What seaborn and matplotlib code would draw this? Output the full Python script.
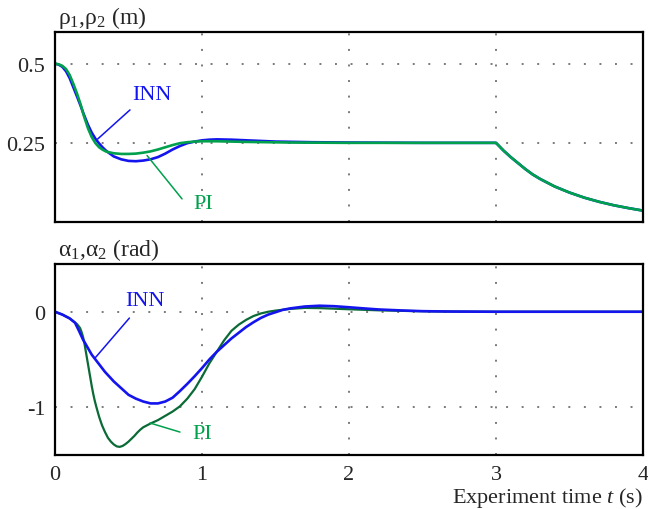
import numpy as np
import pandas as pd
import matplotlib
matplotlib.use("Agg")
import matplotlib.pyplot as plt
import seaborn as sns

# ---- data ----
# top panel: rho (m)
t_rho_inn = [0, 0.025, 0.05, 0.075, 0.1, 0.125, 0.15, 0.175, 0.19, 0.2, 0.225, 0.25, 0.275,
             0.3, 0.325, 0.35, 0.4, 0.45, 0.5, 0.55, 0.6, 0.65, 0.7, 0.75, 0.8, 0.85, 0.9,
             0.95, 1.0, 1.05, 1.1, 1.2, 1.35, 1.5, 1.75, 2.0, 2.5, 3.0,
             3.05, 3.1, 3.15, 3.2, 3.25, 3.3, 3.35, 3.4, 3.5, 3.6, 3.7, 3.8, 3.9, 4.0]
rho_inn = [0.5, 0.497, 0.49, 0.476, 0.454, 0.425, 0.396, 0.366, 0.347, 0.335, 0.306, 0.282,
           0.263, 0.248, 0.235, 0.224, 0.207, 0.198, 0.193, 0.192, 0.194, 0.198, 0.205, 0.216,
           0.229, 0.24, 0.249, 0.254, 0.258, 0.26, 0.261, 0.26, 0.257, 0.254, 0.252, 0.251,
           0.25, 0.25,
           0.226, 0.205, 0.186, 0.167, 0.15, 0.136, 0.124, 0.112, 0.093, 0.077, 0.064, 0.053,
           0.044, 0.036]
t_rho_pi = [0, 0.025, 0.05, 0.075, 0.1, 0.125, 0.15, 0.175, 0.19, 0.2, 0.225, 0.25, 0.275,
            0.3, 0.325, 0.35, 0.4, 0.45, 0.5, 0.55, 0.6, 0.65, 0.7, 0.75, 0.8, 0.85, 0.9,
            0.95, 1.0, 1.1, 1.3, 1.6, 2.0, 3.0,
            3.05, 3.1, 3.15, 3.2, 3.25, 3.3, 3.35, 3.4, 3.5, 3.6, 3.7, 3.8, 3.9, 4.0]
rho_pi = [0.5, 0.498, 0.493, 0.483, 0.464, 0.436, 0.405, 0.37, 0.345, 0.33, 0.295, 0.268,
          0.249, 0.236, 0.228, 0.222, 0.217, 0.215, 0.215, 0.216, 0.219, 0.223, 0.229, 0.236,
          0.243, 0.249, 0.252, 0.254, 0.255, 0.255, 0.253, 0.251, 0.25, 0.25,
          0.226, 0.205, 0.186, 0.167, 0.15, 0.136, 0.124, 0.112, 0.093, 0.077, 0.064, 0.053,
          0.044, 0.036]

# bottom panel: alpha (rad)
t_alpha_inn = [0, 0.05, 0.1, 0.136, 0.16, 0.19, 0.22, 0.25, 0.28, 0.31, 0.34, 0.37, 0.4,
               0.45, 0.5, 0.55, 0.6, 0.65, 0.7, 0.75, 0.8, 0.85, 0.9, 0.95, 1.0, 1.05, 1.1,
               1.15, 1.2, 1.25, 1.3, 1.35, 1.4, 1.45, 1.5, 1.55, 1.6, 1.7, 1.8, 1.9, 2.0,
               2.1, 2.2, 2.35, 2.5, 2.7, 3.0, 4.0]
alpha_inn = [0, -0.03, -0.07, -0.115, -0.19, -0.29, -0.37, -0.45, -0.51, -0.57, -0.63, -0.68,
             -0.73, -0.8, -0.87, -0.91, -0.94, -0.96, -0.96, -0.94, -0.9, -0.83, -0.755, -0.675,
             -0.59, -0.5, -0.42, -0.35, -0.28, -0.22, -0.16, -0.11, -0.065, -0.03, -0.005,
             0.02, 0.035, 0.055, 0.063, 0.058, 0.047, 0.035, 0.024, 0.014, 0.006, 0.002, 0.0, 0.0]
t_alpha_pi = [0, 0.05, 0.1, 0.125, 0.15, 0.17, 0.18, 0.19, 0.2, 0.21, 0.22, 0.23, 0.24, 0.25,
              0.26, 0.27, 0.28, 0.3, 0.32, 0.34, 0.36, 0.38, 0.4, 0.42, 0.44, 0.46, 0.48,
              0.5, 0.52, 0.54, 0.56, 0.58, 0.6, 0.625, 0.65, 0.7, 0.75, 0.8, 0.85, 0.9, 0.95,
              1.0, 1.05, 1.1, 1.15, 1.2, 1.25, 1.3, 1.35, 1.4, 1.45, 1.5, 1.6, 1.7, 1.8,
              1.9, 2.0, 2.2, 2.4, 2.6, 3.0, 4.0]
alpha_pi = [0, -0.03, -0.07, -0.1, -0.13, -0.17, -0.21, -0.26, -0.33, -0.42, -0.51, -0.6,
            -0.69, -0.78, -0.86, -0.93, -0.99, -1.1, -1.19, -1.26, -1.32, -1.36, -1.39, -1.41,
            -1.415, -1.405, -1.385, -1.36, -1.33, -1.3, -1.265, -1.235, -1.21, -1.19, -1.17,
            -1.135, -1.09, -1.045, -0.99, -0.91, -0.81, -0.68, -0.54, -0.42, -0.3, -0.2,
            -0.135, -0.085, -0.045, -0.018, 0.0, 0.012, 0.03, 0.04, 0.038, 0.032, 0.026,
            0.015, 0.008, 0.003, 0.0, 0.0]

x_ticks = [0, 1, 2, 3, 4]
rho_ticks = [0.25, 0.5]
rho_tick_labels = ["0.25", "0.5"]
alpha_ticks = [-1, 0]
alpha_tick_labels = ["-1", "0"]

BLUE = "#1414ee"
GREEN = "#00a04c"
DKGREEN = "#0b6a36"
GRID = "#7a7a7a"

sns.set_style("white")
plt.rcParams["font.family"] = ["Liberation Serif", "DejaVu Serif"]
plt.rcParams["mathtext.fontset"] = "custom"
plt.rcParams["mathtext.rm"] = "Liberation Serif"
plt.rcParams["mathtext.it"] = "Liberation Serif:italic"

fig = plt.figure(figsize=(6.48, 5.10), dpi=100)
ax1 = fig.add_axes([0.0849, 0.5627, 0.9074, 0.3726])
ax2 = fig.add_axes([0.0849, 0.1059, 0.9074, 0.3745])

#####################################
# top panel
sns.lineplot(x=t_rho_inn, y=rho_inn, ax=ax1, color=BLUE, lw=1.9, estimator=None, sort=False)
sns.lineplot(x=t_rho_pi, y=rho_pi, ax=ax1, color=GREEN, lw=1.9, estimator=None, sort=False)
ax1.set_ylim(0, 0.6)
ax1.set_yticks(rho_ticks)
ax1.set_yticklabels(rho_tick_labels)
ax1.text(0.005, 1.01, r"ρ$_1$,ρ$_2$ (m)", transform=ax1.transAxes, fontsize=17,
         ha="left", va="bottom")

ax1.annotate("", xy=(0.29, 0.262), xytext=(0.51, 0.354),
             arrowprops=dict(arrowstyle="-", color=BLUE, lw=1.1, shrinkA=0, shrinkB=0))
ax1.text(0.66, 0.404, "INN", color=BLUE, fontsize=16, ha="center", va="center")
ax1.annotate("", xy=(0.626, 0.21), xytext=(0.864, 0.073),
             arrowprops=dict(arrowstyle="-", color=GREEN, lw=1.1, shrinkA=0, shrinkB=0))
ax1.text(1.01, 0.057, "PI", color=GREEN, fontsize=16, ha="center", va="center")

#####################################
# bottom panel
sns.lineplot(x=t_alpha_pi, y=alpha_pi, ax=ax2, color=DKGREEN, lw=1.6, estimator=None, sort=False)
sns.lineplot(x=t_alpha_inn, y=alpha_inn, ax=ax2, color=BLUE, lw=1.9, estimator=None, sort=False)
ax2.set_ylim(-1.5, 0.5)
ax2.set_yticks(alpha_ticks)
ax2.set_yticklabels(alpha_tick_labels)
ax2.text(0.005, 1.01, r"α$_1$,α$_2$ (rad)", transform=ax2.transAxes, fontsize=17,
         ha="left", va="bottom")

ax2.annotate("", xy=(0.272, -0.485), xytext=(0.506, -0.066),
             arrowprops=dict(arrowstyle="-", color=BLUE, lw=1.1, shrinkA=0, shrinkB=0))
ax2.text(0.612, 0.118, "INN", color=BLUE, fontsize=16, ha="center", va="center")
ax2.annotate("", xy=(0.646, -1.165), xytext=(0.85, -1.26),
             arrowprops=dict(arrowstyle="-", color=GREEN, lw=1.1, shrinkA=0, shrinkB=0))
ax2.text(1.003, -1.28, "PI", color=GREEN, fontsize=16, ha="center", va="center")

ax2.set_xlabel("Experiment time $t$ (s)", fontsize=16, loc="right", labelpad=1)

for ax in (ax1, ax2):
    ax.set_xlim(0, 4)
    ax.set_xticks(x_ticks)
    ax.grid(True, color=GRID, linestyle=(0, (1, 7)), lw=1.4)
    ax.tick_params(length=0, labelsize=16, pad=7)
    for s in ax.spines.values():
        s.set_color("black")
        s.set_linewidth(1.6)
ax1.set_xticklabels([])
ax1.set_xlabel("")

fig.savefig("out.png", dpi=100)
